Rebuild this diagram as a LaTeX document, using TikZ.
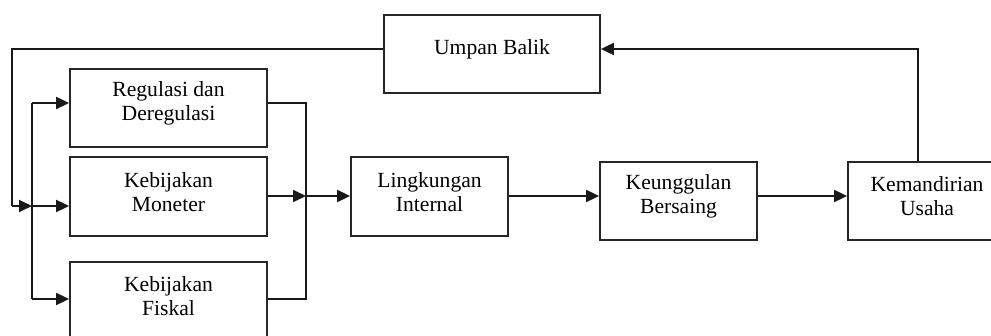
\documentclass[tikz,border=0pt]{standalone}
\usepackage{fontspec}
\setmainfont{Liberation Serif}
\usetikzlibrary{arrows.meta,calc}
\begin{document}
\begin{tikzpicture}[x=0.5pt,y=-0.5pt,
  box/.style={draw=black!85, line width=0.9pt, inner sep=0pt, fill=white},
  lbl/.style={align=center, yshift=2.3pt, font=\fontsize{10.8}{12}\selectfont, text=black},
  conn/.style={draw=black!90, line width=0.9pt},
  arr/.style={conn, -{Triangle[length=6.5pt,width=6pt]}}]
\clip (0,0) rectangle (991,336);
\node[box, minimum width=108pt, minimum height=39pt, label={[lbl]center:Umpan Balik}] (ub) at (492,54) {};
\node[box, minimum width=98.5pt, minimum height=39pt, label={[lbl]center:Regulasi dan\\Deregulasi}] (reg) at (168.5,108) {};
\node[box, minimum width=98.5pt, minimum height=39.5pt, label={[lbl]center:Kebijakan\\Moneter}] (mon) at (168.5,196.5) {};
\node[box, minimum width=98.5pt, minimum height=39pt, label={[lbl]center:Kebijakan\\Fiskal}] (fis) at (168.5,301) {};
\node[box, minimum width=78.5pt, minimum height=39.5pt, label={[lbl]center:Lingkungan\\Internal}] (lin) at (429.5,196.5) {};
\node[box, minimum width=78.5pt, minimum height=39pt, label={[lbl]center:Keunggulan\\Bersaing}] (keu) at (678.5,201) {};
\node[box, minimum width=79pt, minimum height=39pt, label={[lbl]center:Kemandirian\\Usaha}] (kem) at (927,201) {};
\coordinate (fbR) at (918,49);
\coordinate (fbL) at (12,49);
\coordinate (fbD) at (12,206);
\coordinate (dTop) at (32,103);
\coordinate (dMid) at (32,206);
\coordinate (dBot) at (32,299);
\coordinate (cTop) at (306,103);
\coordinate (cMid) at (306,196);
\coordinate (cBot) at (306,299);
\draw[arr] (kem.north -| fbR) -- (fbR) -- (ub.east |- fbR);
\draw[conn] (ub.west |- fbL) -- (fbL) -- (fbD);
\draw[arr] (fbD) -- (dMid);
\draw[conn] (dTop) -- (dBot);
\draw[arr] (dTop) -- (reg.west |- dTop);
\draw[arr] (dMid) -- (mon.west |- dMid);
\draw[arr] (dBot) -- (fis.west |- dBot);
\draw[conn] (reg.east |- cTop) -- (cTop) -- (cBot) -- (fis.east |- cBot);
\draw[arr] (mon.east |- cMid) -- (cMid);
\draw[arr] (cMid) -- (lin.west |- cMid);
\draw[arr] (lin.east |- cMid) -- (keu.west |- cMid);
\draw[arr] (keu.east |- cMid) -- (kem.west |- cMid);
\end{tikzpicture}
\end{document}
